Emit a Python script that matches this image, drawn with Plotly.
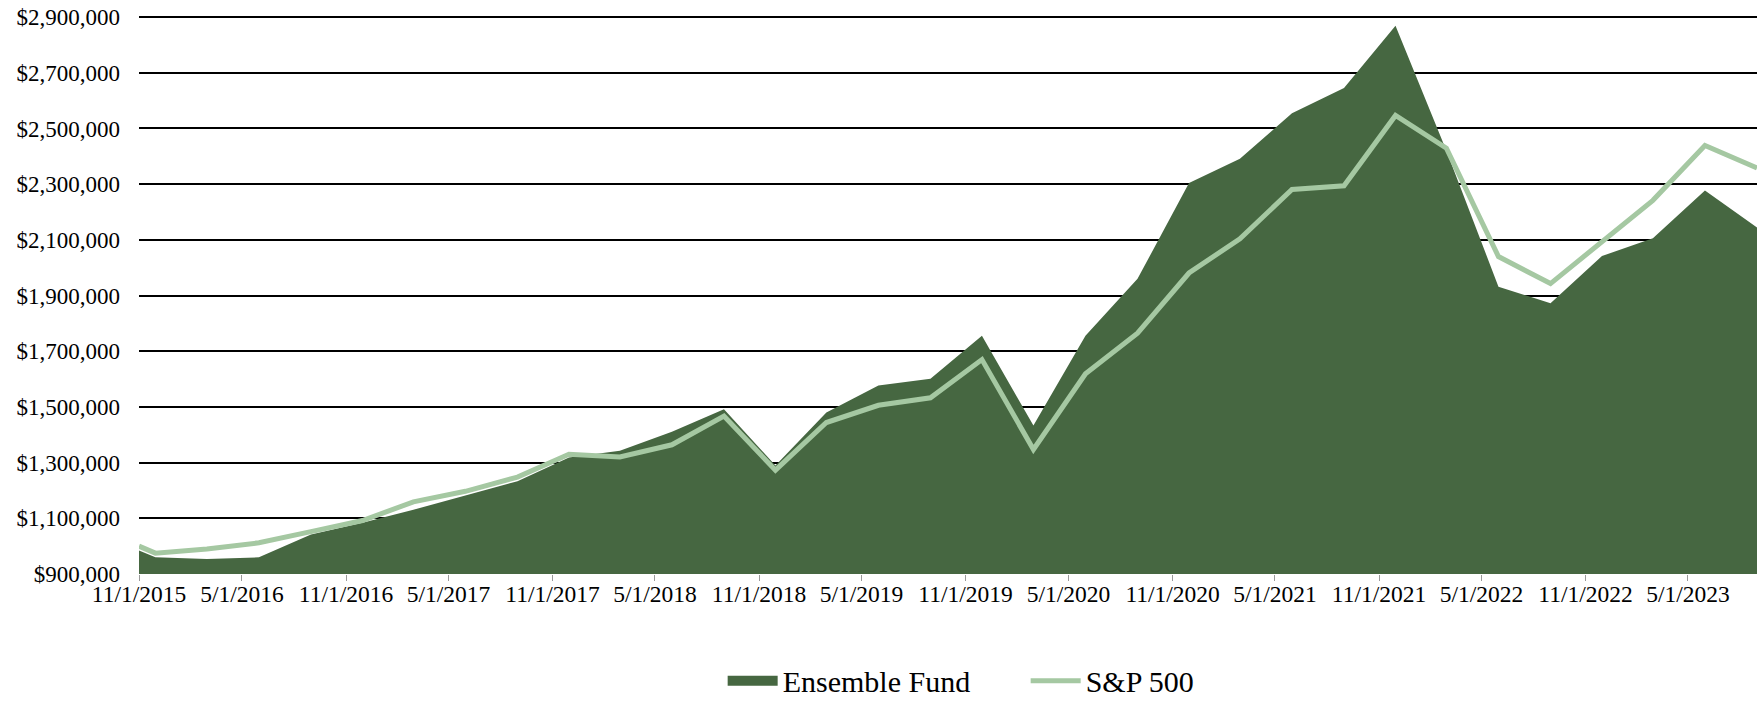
import plotly.graph_objects as go

# ---------------- data ----------------
dates = ["2015-11-01", "2015-11-30", "2016-02-29", "2016-05-31", "2016-08-31",
         "2016-11-30", "2017-02-28", "2017-05-31", "2017-08-31", "2017-11-30",
         "2018-02-28", "2018-05-31", "2018-08-31", "2018-11-30", "2019-02-28",
         "2019-05-31", "2019-08-31", "2019-11-30", "2020-02-29", "2020-05-31",
         "2020-08-31", "2020-11-30", "2021-02-28", "2021-05-31", "2021-08-31",
         "2021-11-30", "2022-02-28", "2022-05-31", "2022-08-31", "2022-11-30",
         "2023-02-28", "2023-05-31", "2023-08-31"]

ensemble_fund = [984000, 960000, 954000, 960000, 1042000, 1084000, 1131000,
                 1182000, 1233000, 1318000, 1343000, 1411000, 1492000, 1290000,
                 1480000, 1577000, 1601000, 1756000, 1433000, 1756000, 1960000,
                 2304000, 2391000, 2555000, 2645000, 2869000, 2420000, 1932000,
                 1872000, 2042000, 2106000, 2277000, 2144000]

sp500 = [1000000, 975000, 990000, 1012000, 1052000, 1092000, 1159000,
         1197000, 1248000, 1330000, 1320000, 1364000, 1467000, 1273000,
         1444000, 1506000, 1533000, 1670000, 1347000, 1619000, 1765000,
         1981000, 2104000, 2281000, 2294000, 2547000, 2429000, 2040000,
         1943000, 2094000, 2242000, 2439000, 2358000]

x_tick_dates = ["2015-11-01", "2016-05-01", "2016-11-01", "2017-05-01",
                "2017-11-01", "2018-05-01", "2018-11-01", "2019-05-01",
                "2019-11-01", "2020-05-01", "2020-11-01", "2021-05-01",
                "2021-11-01", "2022-05-01", "2022-11-01", "2023-05-01"]
x_tick_labels = ["11/1/2015", "5/1/2016", "11/1/2016", "5/1/2017",
                 "11/1/2017", "5/1/2018", "11/1/2018", "5/1/2019",
                 "11/1/2019", "5/1/2020", "11/1/2020", "5/1/2021",
                 "11/1/2021", "5/1/2022", "11/1/2022", "5/1/2023"]

y_tick_values = [900000, 1100000, 1300000, 1500000, 1700000, 1900000,
                 2100000, 2300000, 2500000, 2700000, 2900000]
y_tick_labels = ["$900,000", "$1,100,000", "$1,300,000", "$1,500,000",
                 "$1,700,000", "$1,900,000", "$2,100,000", "$2,300,000",
                 "$2,500,000", "$2,700,000", "$2,900,000"]

# ---------------- style ----------------
FUND_COLOR = "#466741"
SP_COLOR = "#A5C8A2"
FONT = "Liberation Serif"

fig = go.Figure()

fig.add_trace(go.Scatter(
    x=dates, y=ensemble_fund, name="Ensemble Fund", mode="lines",
    line=dict(width=0, color=FUND_COLOR), fill="tozeroy",
    fillcolor=FUND_COLOR, showlegend=False, legendgroup="fund",
    hoverinfo="x+y"))

# legend entry for the area (wide filled swatch)
fig.add_trace(go.Scatter(
    x=[None], y=[None], name="Ensemble Fund", mode="lines",
    line=dict(width=15, color=FUND_COLOR), legendgroup="fund"))

fig.add_trace(go.Scatter(
    x=dates, y=sp500, name="S&P 500", mode="lines",
    line=dict(width=5, color=SP_COLOR)))

fig.update_layout(
    width=1761, height=701,
    margin=dict(l=139, r=4, t=16, b=127),
    plot_bgcolor="white", paper_bgcolor="white",
    font=dict(family=FONT, color="black"),
    showlegend=True,
    legend=dict(orientation="h", x=0.548, xanchor="center",
                yref="container", y=0.029, yanchor="middle",
                font=dict(family=FONT, size=30, color="black"),
                itemwidth=50, entrywidth=238, entrywidthmode="pixels",
                traceorder="normal"),
    xaxis=dict(type="date", range=[dates[0], dates[-1]],
               tickmode="array", tickvals=x_tick_dates, ticktext=x_tick_labels,
               ticks="outside", ticklen=6, tickcolor="#9a9a9a", tickwidth=1,
               ticklabelstandoff=-7,
               showgrid=False, zeroline=False, showline=False,
               tickangle=0, tickfont=dict(family=FONT, size=23.5, color="black")),
    yaxis=dict(range=[900000, 2904000], tickmode="array",
               tickvals=y_tick_values, ticktext=y_tick_labels,
               showgrid=True, gridcolor="black", gridwidth=1.6,
               zeroline=False, showline=False, ticks="",
               ticklabelstandoff=18,
               tickfont=dict(family=FONT, size=23, color="black")),
)

fig.write_html(
    "out.html",
    config={"displayModeBar": False},
    post_script="document.body.style.margin='0';"
                "document.body.style.overflow='hidden';",
)
